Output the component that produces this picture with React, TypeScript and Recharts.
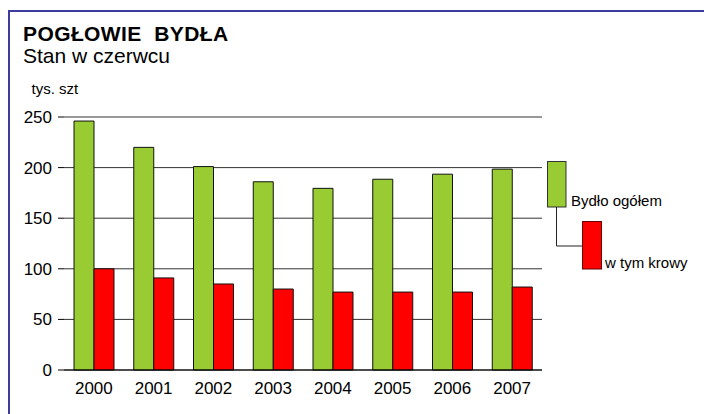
import { Bar, BarChart, CartesianGrid, XAxis, YAxis } from "recharts";

const years = ["2000", "2001", "2002", "2003", "2004", "2005", "2006", "2007"];
const cattleTotal = [246, 220, 201, 186, 179.5, 188.5, 193.5, 198.5];
const cows = [100, 91, 85, 80, 77, 77, 77, 82];
const yTicks = [0, 50, 100, 150, 200, 250];

const seriesNames = ["Bydło ogółem", "w tym krowy"];
const seriesColors = ["#99CC33", "#FF0000"];

const FONT = "'Liberation Sans', Arial, sans-serif";

const data = years.map((year, i) => ({
  year,
  total: cattleTotal[i],
  cows: cows[i],
}));

// hand-drawn legend with the little elbow connector, like the original
function StairLegend() {
  return (
    <g fontFamily={FONT} fontSize={15} fill="#000">
      <rect x={547.5} y={161.5} width={18.5} height={45.5} fill={seriesColors[0]} stroke="#333" />
      <text x={571} y={206}>{seriesNames[0]}</text>
      <polyline points="556.5,207 556.5,246 582.5,246" fill="none" stroke="#222" strokeWidth={1} />
      <rect x={582.5} y={221.5} width={19} height={47.5} fill={seriesColors[1]} stroke="#600" />
      <text x={605} y={268}>{seriesNames[1]}</text>
    </g>
  );
}

export default function App() {
  return (
    <div
      style={{
        position: "fixed",
        left: 0,
        top: 0,
        width: 704,
        height: 414,
        overflow: "hidden",
        background: "#fff",
      }}
    >
      <div
        style={{
          position: "absolute",
          left: 8,
          top: 10,
          width: 740,
          height: 440,
          border: "2px solid #3c3c9c",
          boxSizing: "border-box",
        }}
      />
      <div style={{ position: "absolute", left: 0, top: 0 }}>
        <BarChart
          width={704}
          height={414}
          data={data}
          margin={{ top: 117, right: 162, bottom: 14, left: 0 }}
          barCategoryGap={10}
          barGap={0}
        >
          <CartesianGrid vertical={false} stroke="#333" />
          <XAxis
            dataKey="year"
            height={30}
            tickLine={false}
            tickSize={6}
            tickMargin={6}
            axisLine={{ stroke: "#000" }}
            tick={{ fill: "#000", fontSize: 17, fontFamily: FONT }}
          />
          <YAxis
            width={64}
            domain={[0, 250]}
            ticks={yTicks}
            axisLine={false}
            tickSize={6}
            tickMargin={6}
            tickLine={{ stroke: "#000" }}
            tick={{ fill: "#000", fontSize: 17, fontFamily: FONT }}
          />
          <Bar dataKey="total" fill={seriesColors[0]} stroke="#111" isAnimationActive={false} />
          <Bar dataKey="cows" fill={seriesColors[1]} stroke="#111" isAnimationActive={false} />
        </BarChart>
      </div>
      <svg
        width={704}
        height={414}
        style={{ position: "absolute", left: 0, top: 0, pointerEvents: "none" }}
      >
        <text
          x={23}
          y={41}
          fontFamily={FONT}
          fontSize={21}
          fontWeight="bold"
          letterSpacing={0.4}
          style={{ whiteSpace: "pre" }}
        >
          POGŁOWIE  BYDŁA
        </text>
        <text x={23} y={62.5} fontFamily={FONT} fontSize={21}>
          Stan w czerwcu
        </text>
        <text x={31.5} y={94} fontFamily={FONT} fontSize={15}>
          tys. szt
        </text>
        <StairLegend />
      </svg>
    </div>
  );
}
